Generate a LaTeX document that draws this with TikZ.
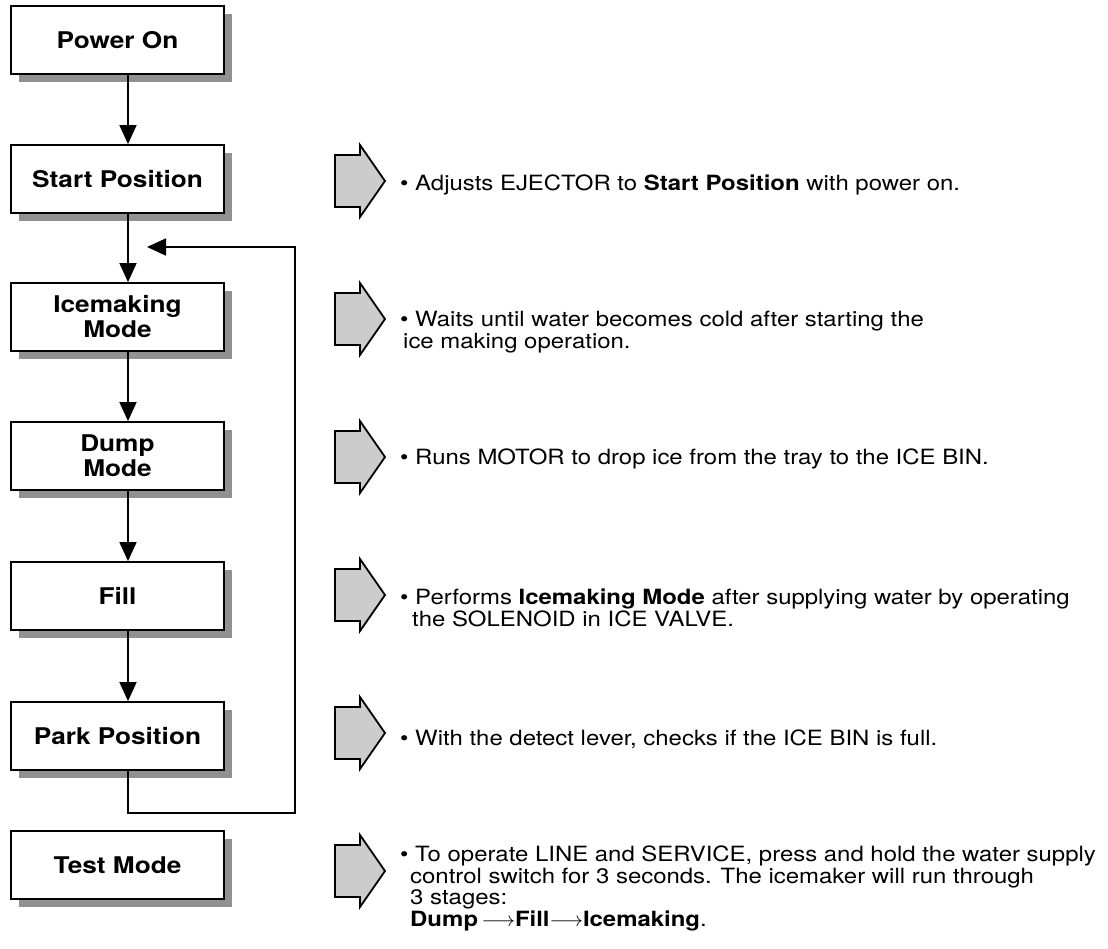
\documentclass[tikz,border=0pt]{standalone}
\usepackage{fontspec}
\setmainfont{TeX Gyre Heros}[FakeStretch=1.14]
\usetikzlibrary{arrows.meta,shadows}

\begin{document}
\begin{tikzpicture}[
  x=1pt, y=-1pt,
  stage/.style={draw, line width=1.8pt, fill=white, minimum width=213pt, minimum height=68pt,
    inner sep=0pt, align=center, font=\fontsize{23}{25}\selectfont\bfseries,
    drop shadow={shadow xshift=8pt, shadow yshift=-8pt, fill=black!43, opacity=1}},
  note/.style={anchor=base west, align=left, inner sep=0pt, font=\fontsize{21}{21.5}\selectfont},
  arr/.style={-{Triangle[length=19pt,width=17pt]}, line width=1.7pt},
  hint/.pic={\draw[line width=1.8pt, fill=black!20] (-25,-26) -- (0,-26) -- (0,-36) -- (25,0)
    -- (0,36) -- (0,26) -- (-25,26) -- cycle;}
]
\useasboundingbox (0,0) rectangle (1108,948);

% mode boxes
\node[stage] (pow) at (117.5,40)  {Power On};
\node[stage] (sta) at (117.5,179) {Start Position};
\node[stage] (ice) at (117.5,317) {Icemaking\\Mode};
\node[stage] (dmp) at (117.5,456) {Dump\\Mode};
\node[stage] (fil) at (117.5,596) {Fill};
\node[stage] (prk) at (117.5,736) {Park Position};
\node[stage] (tst) at (117.5,865) {Test Mode};

% flow
\foreach \a/\b in {pow/sta,sta/ice,ice/dmp,dmp/fil,fil/prk}
  \draw[arr] ([xshift=10.5pt]\a.south) -- ([xshift=10.5pt]\b.north);

% loop back to icemaking
\coordinate (loopR) at (295,813);
\coordinate (back) at (147,247);
\draw[arr] ([xshift=10.5pt]prk.south) |- (loopR) |- (back);

% hint arrows
\foreach \y in {181,319,457,595,733,871}
  \pic at (360,\y) {hint};

% descriptions (base = last line)
\node[note] (t1) at (400,190) {\textbullet{} Adjusts EJECTOR to \textbf{Start Position} with power on.};
\node[note] (t2) at (400,348) {\textbullet{} Waits until water becomes cold after starting the\\\hspace*{3pt}ice making operation.};
\node[note] (t3) at (400,464) {\textbullet{} Runs MOTOR to drop ice from the tray to the ICE BIN.};
\node[note] (t4) at (400,626) {\textbullet{} Performs \textbf{Icemaking Mode} after supplying water by operating\\\hspace*{12pt}the SOLENOID in ICE VALVE.};
\node[note] (t5) at (400,745) {\textbullet{} With the detect lever, checks if the ICE BIN is full.};
\node[note] (t6) at (400,926) {\textbullet{} To operate LINE and SERVICE, press and hold the water supply\\\hspace*{10pt}control switch for 3 seconds. The icemaker will run through\\\hspace*{10pt}3 stages:\\\hspace*{10pt}\textbf{Dump}$\,\longrightarrow$\textbf{Fill}$\longrightarrow$\textbf{Icemaking}.};
\end{tikzpicture}
\end{document}
